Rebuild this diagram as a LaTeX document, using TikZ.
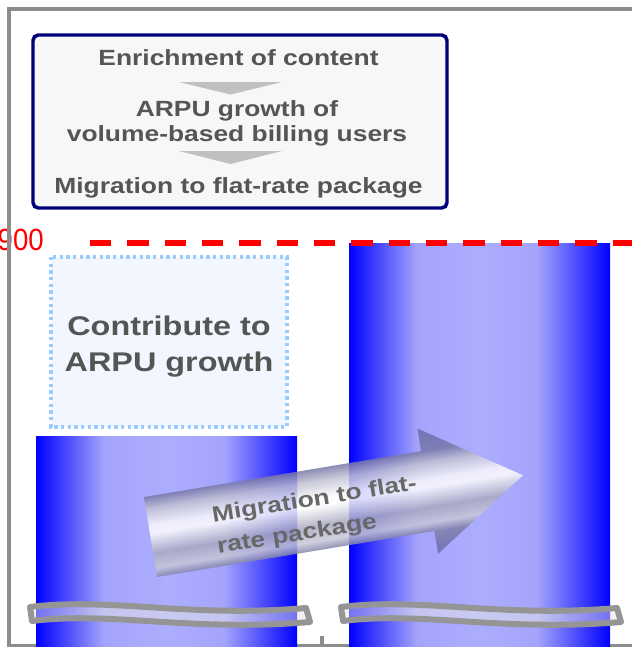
\documentclass[tikz,border=0pt]{standalone}
\usepackage{fontspec}
\setmainfont{Liberation Sans}
\newfontfamily\wfont[FakeStretch=1.2]{Liberation Sans}
\newfontfamily\nfont[FakeStretch=0.9]{Liberation Sans}
\definecolor{navyb}{HTML}{00007A}
\definecolor{boxfill}{HTML}{F7F7F7}
\definecolor{txtgray}{HTML}{555555}
\definecolor{trigray}{HTML}{C0C0C0}
\definecolor{framegray}{HTML}{8C8C8C}
\definecolor{dotblue}{HTML}{99CCFF}
\definecolor{dotfill}{HTML}{F2F7FF}
\definecolor{barlight}{HTML}{A4A4FC}
\definecolor{barlightb}{HTML}{ADADFF}
\definecolor{redd}{HTML}{FF0000}
\definecolor{hdA}{HTML}{6868B0}
\definecolor{shA}{HTML}{8080A8}
\definecolor{shB}{HTML}{C8C8D8}
\definecolor{shC}{HTML}{A8A8C0}
\definecolor{shD}{HTML}{FFFFFF}
\definecolor{shE}{HTML}{F8F8FA}
\definecolor{shF}{HTML}{C0C0D2}
\definecolor{shG}{HTML}{7878A8}
\definecolor{hdB}{HTML}{6C6CB0}
\definecolor{stripgray}{HTML}{959595}
\definecolor{stripfill}{HTML}{E6E6E6}
\definecolor{arrtxt}{HTML}{686868}
\pgfdeclarehorizontalshading{barshade}{100bp}{color(0bp)=(blue); color(25bp)=(blue); color(38bp)=(barlight); color(50bp)=(barlightb); color(61bp)=(barlight); color(75bp)=(blue); color(100bp)=(blue)}
\pgfdeclareverticalshading{arrshade}{100bp}{color(0bp)=(hdA); color(25bp)=(hdA); color(34bp)=(shA); color(37.8bp)=(shB); color(43.6bp)=(shC); color(51.6bp)=(shD); color(54.8bp)=(shE); color(61.2bp)=(shF); color(66bp)=(shG); color(75bp)=(hdB); color(100bp)=(hdB)}
\tikzset{
  boxtxt/.style={text=txtgray, font=\wfont\bfseries\fontsize{16.5}{18.75}\selectfont, inner sep=0pt, align=center},
  bigtxt/.style={text=txtgray, font=\wfont\bfseries\fontsize{20.25}{27}\selectfont, inner sep=0pt, align=center},
  arrowtxt/.style={text=arrtxt, font=\wfont\bfseries\fontsize{16.5}{23.8}\selectfont, inner sep=0pt, align=left},
  tri/.style={fill=trigray, draw=none},
  bar/.style={shading=barshade, draw=none},
  strip/.style={draw=stripgray, line width=4.5pt, fill=stripfill, fill opacity=0.5, draw opacity=1, line join=round},
  framel/.style={draw=framegray, line width=2.3pt},
}
\begin{document}
\begin{tikzpicture}[x=0.75pt, y=-0.75pt]
\useasboundingbox (0,0) rectangle (632,647);
\clip (0,0) rectangle (632,647);
% 900 label
\node[text=redd, font=\nfont\fontsize{23}{23}\selectfont, inner sep=0pt, anchor=base east] (lab900) at (44,250) {900};
% frame
\draw[framel] (9,647) -- (9,9) -- (640,9);
\draw[framel] (9,646) -- (640,646);
\draw[framel] (322,636) -- (322,647);
% top box
\draw[draw=navyb, line width=2.6pt, fill=boxfill, rounded corners=4pt] (33,35) rectangle (447,208);
\node[boxtxt, anchor=base] (t1) at (238.5,65) {Enrichment of content};
\fill[tri] (179,82) -- (282,82) -- (230.5,94.5) -- cycle;
\node[boxtxt] (t2) at (237,123.8) {ARPU growth of\\volume-based billing users};
\fill[tri] (179,151) -- (282,151) -- (230.5,164) -- cycle;
\node[boxtxt, anchor=base] (t3) at (238.5,193) {Migration to flat-rate package};
% dotted box
\draw[draw=dotblue, fill=dotfill, line width=2.6pt, dash pattern=on 2.6pt off 2.4pt] (51,257) rectangle (287,427);
\node[bigtxt] (contrib) at (169,347) {Contribute to\\ARPU growth};
% bars
\path[bar] (36,436) rectangle (297,650);
\path[bar] (349,243) rectangle (610,650);
% dashed target line
\draw[redd, line width=4pt, dash pattern=on 16pt off 12pt] (90,243) -- (640,243);
% break strips
\path[strip] (30,607) .. controls (110,597) and (190,618) .. (306,608) -- (310,622) .. controls (190,632) and (110,611) .. (32,621) -- cycle;
\path[strip, xshift=233.25pt] (30,607) .. controls (110,597) and (190,618) .. (306,608) -- (310,622) .. controls (190,632) and (110,611) .. (32,621) -- cycle;
% big arrow (drawn horizontally, then the canvas is rotated)
\begin{scope}[transform canvas={rotate around={9.4:(150.5,537)}}]
\path[shading=arrshade, fill opacity=0.85] (150.5,496.5) -- (431.5,496.5) -- (431.5,473.5) -- (528.1,537) -- (431.5,600.5) -- (431.5,577.5) -- (150.5,577.5) -- cycle;
\end{scope}
\node[arrowtxt, rotate=9] (mig) at (317,516) {Migration to flat-\\rate package};
\end{tikzpicture}
\end{document}
